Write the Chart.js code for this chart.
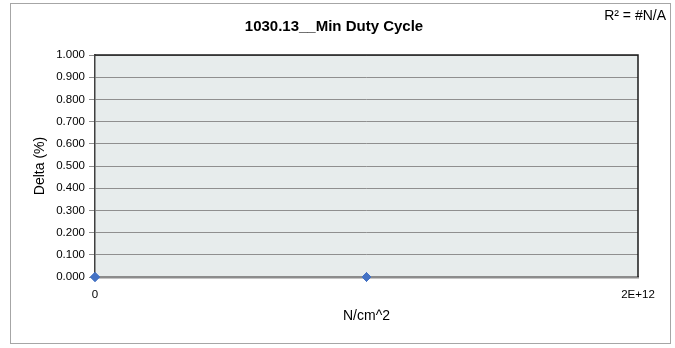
<!DOCTYPE html>
<html>
<head>
<meta charset="utf-8">
<script src="https://cdn.jsdelivr.net/npm/chart.js@4/dist/chart.umd.min.js"></script>
<style>
  html, body { margin: 0; padding: 0; background: #ffffff; }
  #wrap { width: 675px; height: 348px; position: relative; }
</style>
</head>
<body>
<div id="wrap"><canvas id="c" width="675" height="348"></canvas></div>
<script>
// Measurements: applied force vs. duty-cycle delta
const forceValues = [0, 1e12];
const deltaValues = [0, 0];
const xTickValues = [0, 2e12];
const xTickLabels = ['0', '2E+12'];
const yTickLabels = ['0.000', '0.100', '0.200', '0.300', '0.400', '0.500', '0.600', '0.700', '0.800', '0.900', '1.000'];
const chartTitle = '1030.13__Min Duty Cycle';
const fitText = 'R² = #N/A';

const points = forceValues.map((x, i) => ({ x: x, y: deltaValues[i] }));
const FONT = '"Liberation Sans", Arial, sans-serif';

// Outer frame, plot-area frame, heading and the regression note
const framePlugin = {
  id: 'frame',
  beforeDraw(chart) {
    const ctx = chart.ctx;
    const a = chart.chartArea;
    ctx.save();
    ctx.fillStyle = '#ffffff';
    ctx.fillRect(0, 0, chart.width, chart.height);
    ctx.strokeStyle = '#a6a6a6';
    ctx.lineWidth = 1;
    ctx.strokeRect(10.5, 3.5, 660, 340);
    ctx.fillStyle = '#e7ecec';
    ctx.fillRect(a.left, a.top, a.right - a.left, a.bottom - a.top);
    ctx.restore();
  },
  afterDatasetsDraw(chart) {
    const ctx = chart.ctx;
    const a = chart.chartArea;
    ctx.save();
    ctx.strokeStyle = '#1a1a1a';
    ctx.lineWidth = 1.5;
    ctx.beginPath();
    ctx.moveTo(a.left, a.top);
    ctx.lineTo(a.right, a.top);
    ctx.lineTo(a.right, a.bottom);
    ctx.stroke();
    ctx.fillStyle = '#000000';
    ctx.textBaseline = 'middle';
    ctx.font = 'bold 15px ' + FONT;
    ctx.textAlign = 'center';
    ctx.fillText(chartTitle, 334, 27);
    ctx.font = '14px ' + FONT;
    ctx.textAlign = 'right';
    ctx.fillText(fitText, 666, 16);
    ctx.restore();
  },
  afterDraw(chart) {
    // markers sit on top of the frame lines
    const meta = chart.getDatasetMeta(0);
    meta.data.forEach(el => el.draw(chart.ctx));
  }
};

new Chart(document.getElementById('c'), {
  type: 'scatter',
  data: {
    datasets: [{
      data: points,
      pointStyle: 'rectRot',
      pointRadius: 4.5,
      pointHoverRadius: 4.5,
      backgroundColor: '#4472c4',
      borderColor: '#4472c4',
      borderWidth: 1,
      showLine: false,
      clip: false
    }]
  },
  options: {
    responsive: false,
    animation: false,
    events: [],
    layout: { padding: { left: 10, right: 37, top: 55, bottom: 0 } },
    plugins: {
      legend: { display: false },
      tooltip: { enabled: false },
      title: { display: false }
    },
    scales: {
      x: {
        type: 'linear',
        min: xTickValues[0],
        max: xTickValues[xTickValues.length - 1],
        afterBuildTicks(scale) {
          scale.ticks = xTickValues.map(v => ({ value: v }));
        },
        afterFit(scale) { scale.height = 71; },
        ticks: {
          autoSkip: false,
          maxRotation: 0,
          padding: 11,
          color: '#000000',
          font: { family: FONT, size: 11.5 },
          callback(value) {
            const i = xTickValues.indexOf(value);
            return i >= 0 ? xTickLabels[i] : '';
          }
        },
        grid: { display: false, drawTicks: false },
        border: { display: true, color: '#8c8c8c', width: 2.5 },
        title: {
          display: true,
          text: 'N/cm^2',
          color: '#000000',
          font: { family: FONT, size: 14, lineHeight: 1.2 },
          padding: { top: 0, bottom: 23 }
        }
      },
      y: {
        min: 0,
        max: 1,
        afterBuildTicks(scale) {
          scale.ticks = yTickLabels.map(t => ({ value: parseFloat(t) }));
        },
        afterFit(scale) { scale.width = 85; },
        ticks: {
          padding: 4,
          color: '#000000',
          font: { family: FONT, size: 11.5 },
          callback(value) {
            const i = yTickLabels.findIndex(t => Math.abs(parseFloat(t) - value) < 1e-9);
            return i >= 0 ? yTickLabels[i] : '';
          }
        },
        grid: { display: true, color: '#8f8f8f', lineWidth: 1, tickLength: 6, drawTicks: true },
        border: { display: true, color: '#404040', width: 1.5 },
        title: {
          display: true,
          text: 'Delta (%)',
          color: '#000000',
          font: { family: FONT, size: 14, lineHeight: 1.2 },
          padding: { top: 22, bottom: 0 }
        }
      }
    }
  },
  plugins: [framePlugin]
});
</script>
</body>
</html>
